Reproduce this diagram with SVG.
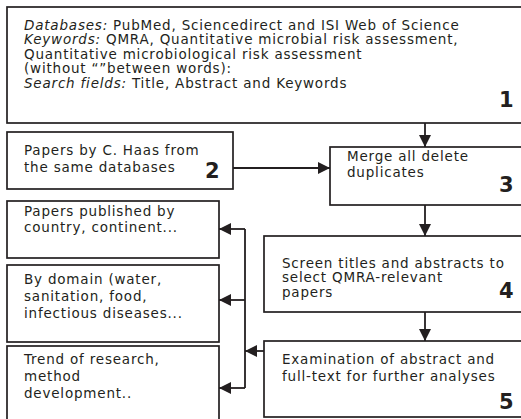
<svg xmlns="http://www.w3.org/2000/svg" width="521" height="419" viewBox="0 0 521 419">
<style>
.box{fill:#fff;stroke:#231f20;stroke-width:1.7}
.t{font-family:"DejaVu Sans","Liberation Sans",sans-serif;font-size:13.5px;letter-spacing:0.8px;fill:#231f20}
.n{font-family:"DejaVu Sans","Liberation Sans",sans-serif;font-size:21px;font-weight:bold;fill:#231f20}
.i{font-style:italic}
.c{fill:none;stroke:#231f20;stroke-width:1.8}
</style>
<defs>
<marker id="ah" markerUnits="userSpaceOnUse" markerWidth="13" markerHeight="12" refX="12" refY="6" orient="auto">
<path d="M0,0 L12,6 L0,12 Z" fill="#231f20"/>
</marker>
</defs>
<rect width="521" height="419" fill="#fff"/>
<g id="node1">
<rect class="box" x="7" y="7" width="520" height="116"/>
<text class="t" x="24" y="29.5"><tspan class="i">Databases:</tspan> PubMed, Sciencedirect and ISI Web of Science</text>
<text class="t" x="24" y="44"><tspan class="i">Keywords:</tspan> QMRA, Quantitative microbial risk assessment,</text>
<text class="t" x="24" y="58.5">Quantitative microbiological risk assessment</text>
<text class="t" x="24" y="73">(without “”between words):</text>
<text class="t" x="24" y="87.5"><tspan class="i">Search fields:</tspan> Title, Abstract and Keywords</text>
<text class="n" x="499" y="107">1</text>
</g>
<g id="node2">
<rect class="box" x="7" y="132" width="226" height="57"/>
<text class="t" x="24" y="155">Papers by C. Haas from</text>
<text class="t" x="24" y="171.5">the same databases</text>
<text class="n" x="205" y="178">2</text>
</g>
<g id="node3">
<rect class="box" x="330" y="147" width="200" height="58"/>
<text class="t" x="347" y="161">Merge all delete</text>
<text class="t" x="347" y="177">duplicates</text>
<text class="n" x="499" y="192">3</text>
</g>
<g id="node4">
<rect class="box" x="264" y="236" width="266" height="76"/>
<text class="t" x="282" y="267.5">Screen titles and abstracts to</text>
<text class="t" x="282" y="282">select QMRA-relevant</text>
<text class="t" x="282" y="296.5">papers</text>
<text class="n" x="499" y="298">4</text>
</g>
<g id="node5">
<rect class="box" x="264" y="341" width="266" height="76"/>
<text class="t" x="282" y="363.5">Examination of abstract and</text>
<text class="t" x="282" y="380.5">full-text for further analyses</text>
<text class="n" x="499" y="409">5</text>
</g>
<g id="nodeA">
<rect class="box" x="7" y="201" width="212" height="57"/>
<text class="t" x="24" y="216">Papers published by</text>
<text class="t" x="24" y="231.5">country, continent...</text>
</g>
<g id="nodeB">
<rect class="box" x="7" y="265" width="212" height="77"/>
<text class="t" x="24" y="284">By domain (water,</text>
<text class="t" x="24" y="301">sanitation, food,</text>
<text class="t" x="24" y="317.5">infectious diseases...</text>
</g>
<g id="nodeC">
<rect class="box" x="7" y="346" width="212" height="80"/>
<text class="t" x="24" y="364">Trend of research,</text>
<text class="t" x="24" y="381">method</text>
<text class="t" x="24" y="397.5">development..</text>
</g>
<g id="connectors">
<line class="c" x1="425" y1="123" x2="425" y2="147" marker-end="url(#ah)"/>
<line class="c" x1="233" y1="168" x2="330" y2="168" marker-end="url(#ah)"/>
<line class="c" x1="425" y1="205" x2="425" y2="236" marker-end="url(#ah)"/>
<line class="c" x1="425" y1="312" x2="425" y2="341" marker-end="url(#ah)"/>
<line class="c" x1="264" y1="351" x2="245" y2="351" marker-end="url(#ah)"/>
<line class="c" x1="245" y1="229" x2="245" y2="388"/>
<line class="c" x1="245" y1="229" x2="219" y2="229" marker-end="url(#ah)"/>
<line class="c" x1="245" y1="300" x2="219" y2="300" marker-end="url(#ah)"/>
<line class="c" x1="245" y1="388" x2="219" y2="388" marker-end="url(#ah)"/>
</g>
</svg>
